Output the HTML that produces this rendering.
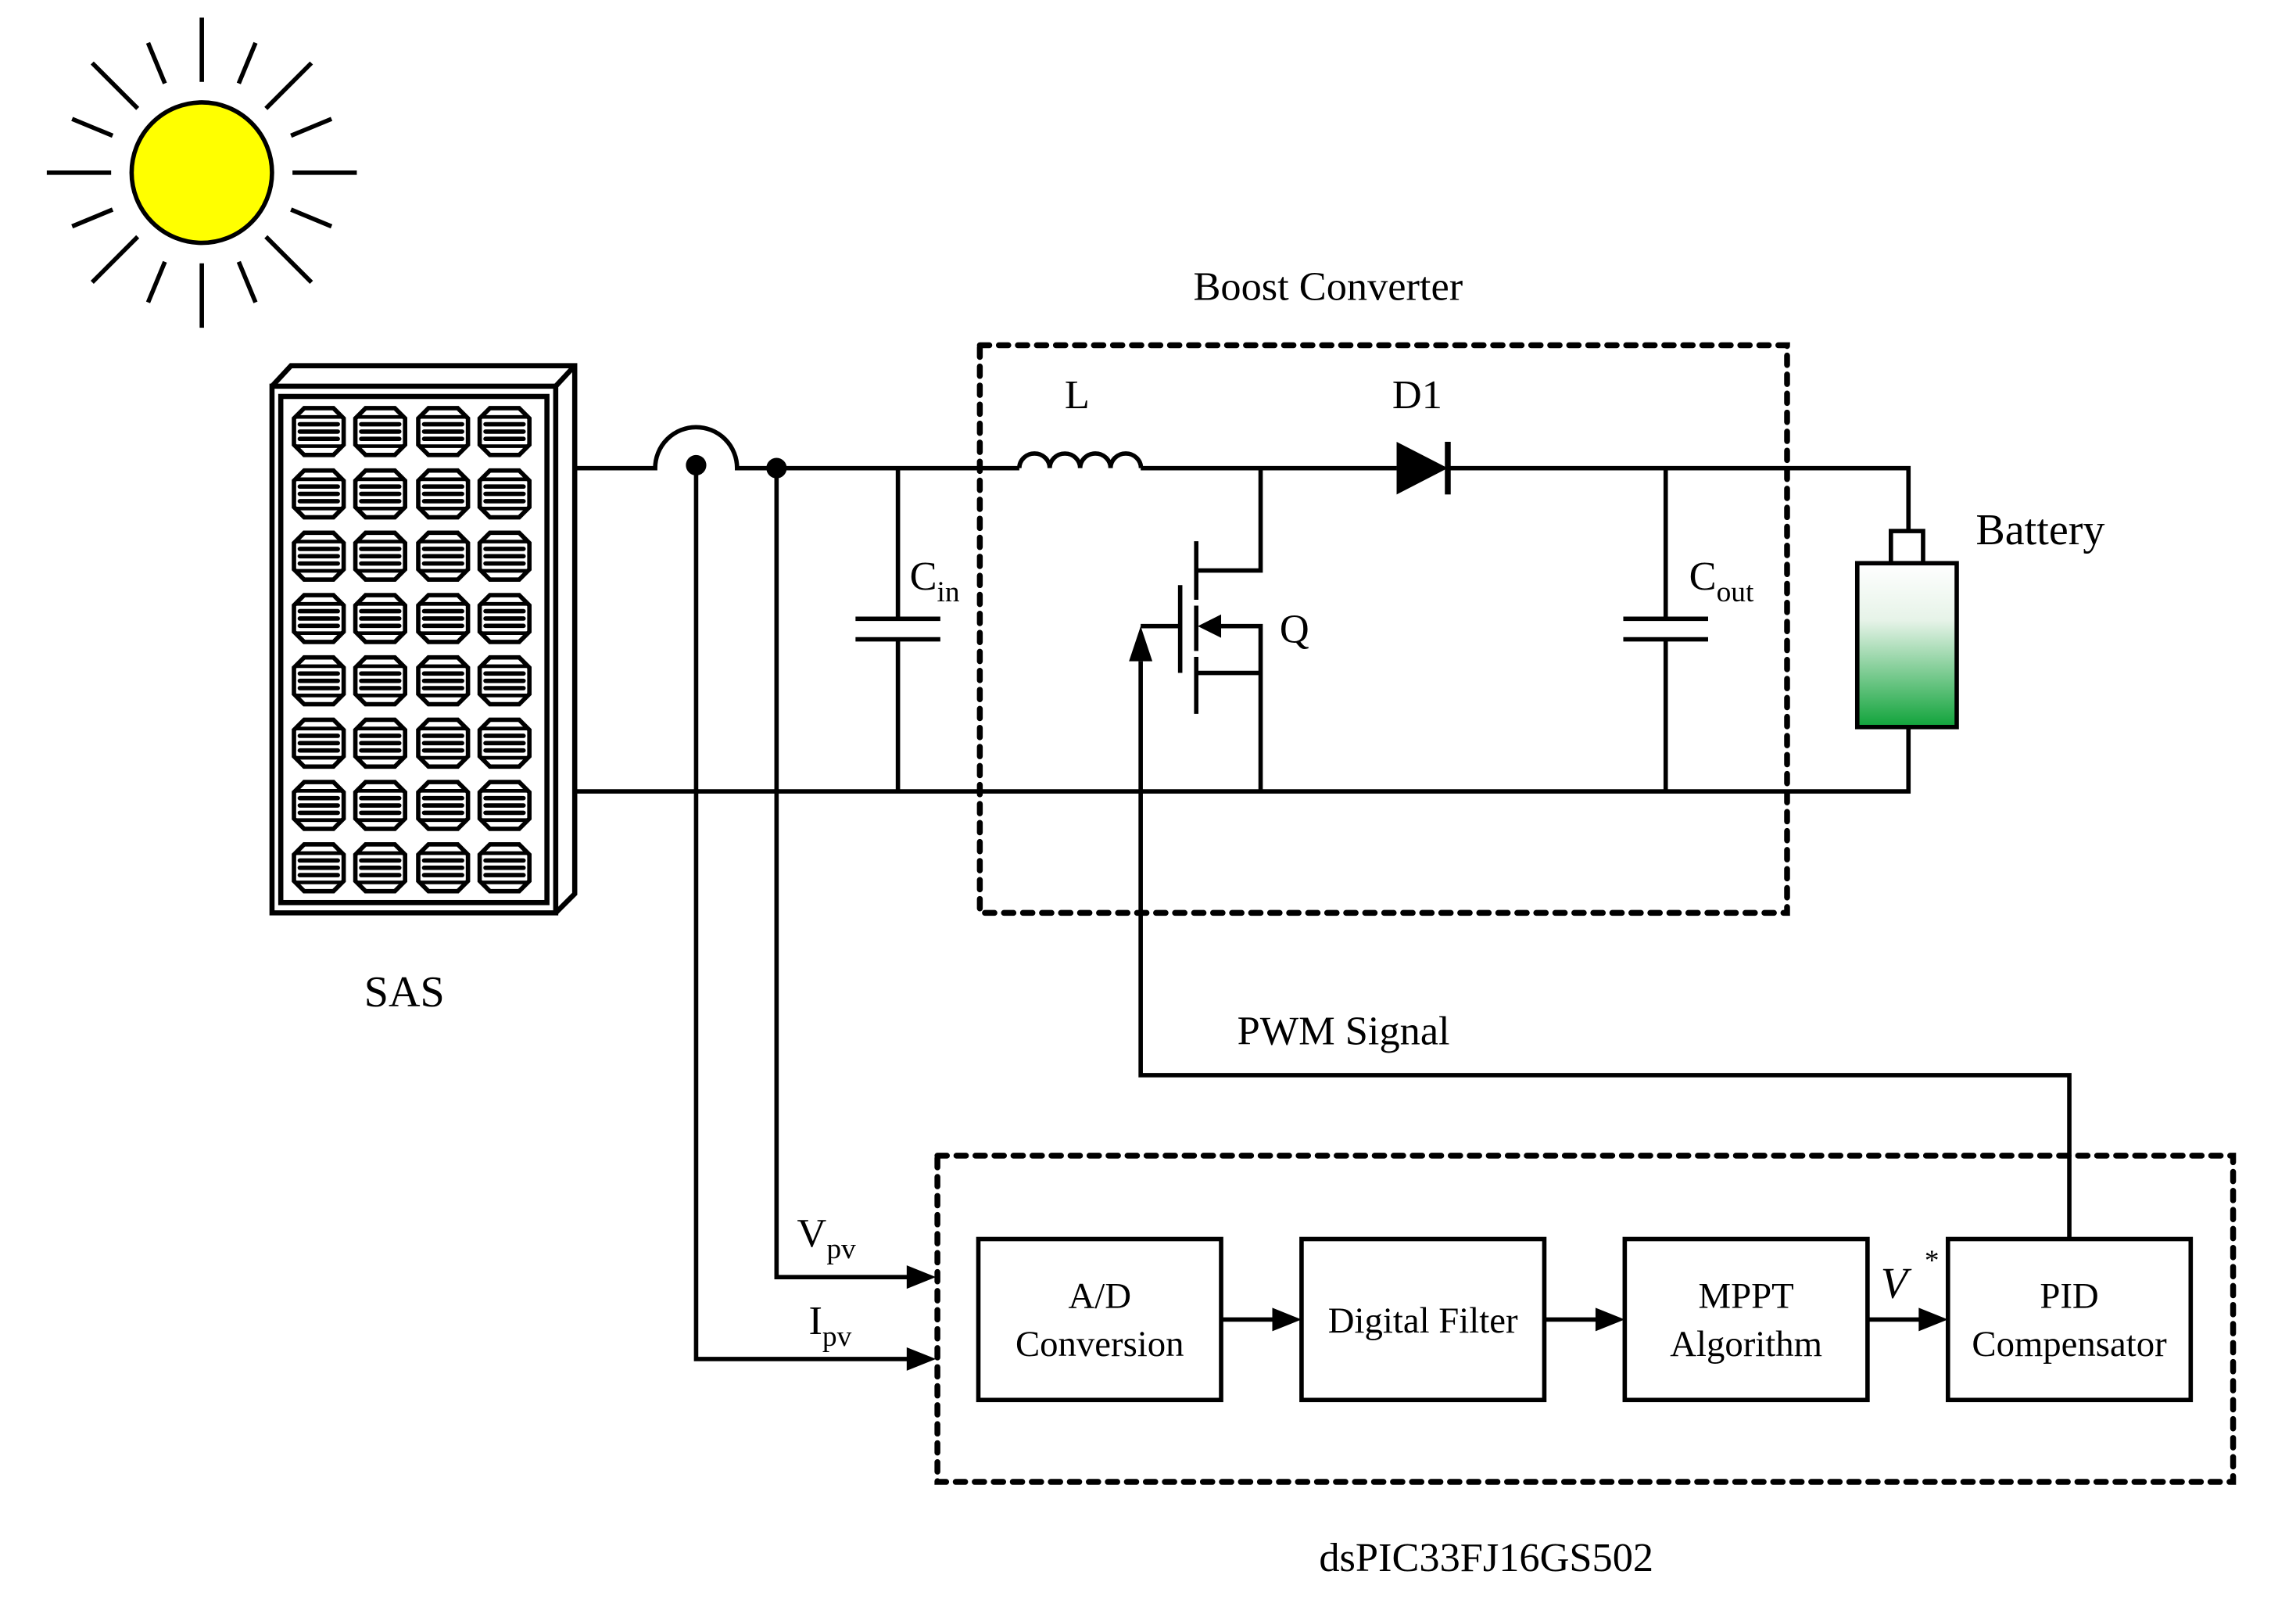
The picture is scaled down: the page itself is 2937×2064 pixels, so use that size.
<!DOCTYPE html>
<html><head><meta charset="utf-8">
<style>html,body{margin:0;padding:0;background:#fff}svg{display:block}</style>
</head><body>
<svg id="s" width="2937" height="2064" viewBox="0 0 1570 1103.3" xmlns="http://www.w3.org/2000/svg" font-family="Liberation Serif, serif">
<defs>
<linearGradient id="bg" x1="0" y1="0" x2="0" y2="1">
<stop offset="0" stop-color="#fff"/><stop offset="0.35" stop-color="#e6f3e8"/><stop offset="1" stop-color="#10a33a"/>
</linearGradient>
</defs>
<g id="sun" stroke="#000" stroke-width="3" fill="none"></g>
<circle cx="138" cy="118" r="48" fill="#ffff00" stroke="#000" stroke-width="3"/>
<g stroke="#000" stroke-width="3.5" fill="none">
<path d="M186 264 L380 264 L380 624 L186 624 Z"/>
<path d="M186 264 L199 250 L393 250 L393 611 L380 624 M380 264 L393 250"/>
<rect x="192" y="271" width="182" height="346"/>
</g>
<g id="cells" stroke="#000" fill="none"></g>
<g stroke="#000" stroke-width="3" fill="none">
<path d="M393 320 H448 A28 28 0 0 1 504 320 H697"/>
<path d="M697 320 a10.4 10 0 0 1 20.8 0 a10.4 10 0 0 1 20.8 0 a10.4 10 0 0 1 20.8 0 a10.4 10 0 0 1 20.8 0"/>
<path d="M780 320 H955 M990 320 H1305 V363"/>
<path d="M393 541 H1305 V497"/>
<path d="M614 320 V423 M585 423 H643 M585 437 H643 M614 437 V541"/>
<path d="M1139 320 V423 M1110 423 H1168 M1110 437 H1168 M1139 437 V541"/>
<path d="M862 320 V390 H818 M818 370 V410 M818 414 V445 M818 449 V488 M807 400 V460 M780 428 H807 M830 428 H862 V541 M818 460 H862"/>
<path d="M780 452 V735 H1415 V847"/>
<path d="M531 320 V873 H625 M476 318 V929 H625"/>
<rect x="669" y="847" width="166" height="110"/>
<rect x="890" y="847" width="166" height="110"/>
<rect x="1111" y="847" width="166" height="110"/>
<rect x="1332" y="847" width="166" height="110"/>
<path d="M835 902 H875 M1056 902 H1096 M1277 902 H1317"/>
<rect x="1293" y="363" width="22" height="22"/>
</g>
<rect x="1270" y="385" width="68" height="112" fill="url(#bg)" stroke="#000" stroke-width="3"/>
<g fill="#000">
<circle cx="476" cy="318" r="7"/><circle cx="531" cy="320" r="7"/>
<path d="M955 302 L990 320 L955 338 Z"/><rect x="988" y="302" width="4" height="36"/>
<path d="M819 428 L835 420 L835 436 Z"/>
<path d="M780 428 L772 452 L788 452 Z"/>
<path d="M640 873 L620 865 L620 881 Z M640 929 L620 921 L620 937 Z"/>
<path d="M890 902 L870 894 L870 910 Z M1111 902 L1091 894 L1091 910 Z M1332 902 L1312 894 L1312 910 Z"/>
</g>
<g stroke="#000" stroke-width="4" fill="none" stroke-dasharray="6.5 6.5" stroke-linecap="round">
<rect x="670" y="236" width="552" height="388"/>
<rect x="641" y="790" width="886" height="223"/>
</g>
<g font-size="28" fill="#000">
<text x="816" y="205">Boost Converter</text>
<text x="728" y="279">L</text>
<text x="952" y="279">D1</text>
<text x="622" y="403">C<tspan font-size="20" dy="8">in</tspan></text>
<text x="875" y="439">Q</text>
<text x="1155" y="403">C<tspan font-size="20" dy="8">out</tspan></text>
<text x="1351" y="372" font-size="30">Battery</text>
<text x="249" y="688" font-size="30">SAS</text>
<text x="846" y="714">PWM Signal</text>
<text x="545" y="852">V<tspan font-size="20" dy="8">pv</tspan></text>
<text x="553" y="912">I<tspan font-size="20" dy="8">pv</tspan></text>
<text x="1286" y="887" font-style="italic" font-size="30">V</text><text x="1316" y="868" font-size="20">*</text>
<g text-anchor="middle" font-size="25">
<text x="752" y="894">A/D</text><text x="752" y="927">Conversion</text>
<text x="973" y="911">Digital Filter</text>
<text x="1194" y="894">MPPT</text><text x="1194" y="927">Algorithm</text>
<text x="1415" y="894">PID</text><text x="1415" y="927">Compensator</text>
</g>
<text x="902" y="1074">dsPIC33FJ16GS502</text>
</g>
<script>
var NS="http://www.w3.org/2000/svg";
var sun=document.getElementById("sun");
for(var i=0;i<16;i++){var a=i*Math.PI/8;var r1=i%2?66:62,r2=i%2?96:106;
var l=document.createElementNS(NS,"line");
l.setAttribute("x1",138+r1*Math.cos(a));l.setAttribute("y1",118+r1*Math.sin(a));
l.setAttribute("x2",138+r2*Math.cos(a));l.setAttribute("y2",118+r2*Math.sin(a));sun.appendChild(l);}
var c=document.getElementById("cells");var xs=[218,260,303,345];
for(var j=0;j<8;j++)for(var k=0;k<4;k++){var x=xs[k],y=295+j*42.6;
var p=document.createElementNS(NS,"path");
p.setAttribute("d","M"+(x-10)+" "+(y-16)+"h20l7 7v18l-7 7h-20l-7 -7v-18z");
p.setAttribute("stroke-width","3");c.appendChild(p);
for(var m=-1;m<=1;m++){var q=document.createElementNS(NS,"line");
q.setAttribute("x1",x-13);q.setAttribute("x2",x+13);q.setAttribute("y1",y+m*5);q.setAttribute("y2",y+m*5);
q.setAttribute("stroke-width","3");q.setAttribute("stroke-linecap","round");c.appendChild(q);}
var t=document.createElementNS(NS,"path");t.setAttribute("d","M"+(x-16)+" "+(y-10)+"h32M"+(x-16)+" "+(y+10)+"h32");t.setAttribute("stroke-width","2.5");c.appendChild(t);}
</script>
</svg>
</body></html>
